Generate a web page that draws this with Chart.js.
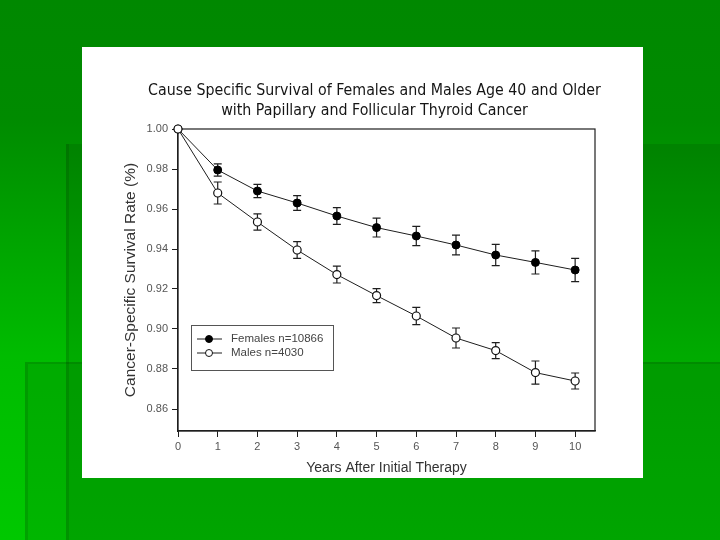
<!DOCTYPE html>
<html>
<head>
<meta charset="utf-8">
<script src="https://cdn.jsdelivr.net/npm/chart.js@4.4.1/dist/chart.umd.min.js"></script>
<style>
  html, body { margin: 0; padding: 0; }
  body {
    width: 720px; height: 540px; overflow: hidden; position: relative;
    background: linear-gradient(180deg, #008800 0%, #008b00 22%, #00bc00 66%, #00c800 100%);
  }
  .shade { position: absolute; right: 0; bottom: 0; background: rgba(0, 0, 0, 0.09); }
  #shadeA { left: 66px; top: 144px; box-shadow: inset 3px 0 0 rgba(0, 0, 0, 0.1); }
  #shadeB { left: 25px; top: 362px; box-shadow: inset 3px 2px 0 rgba(0, 0, 0, 0.1); }
  #panel { position: absolute; left: 82px; top: 47px; width: 561px; height: 431px; background: #fff; }
</style>
</head>
<body>
<div class="shade" id="shadeA"></div>
<div class="shade" id="shadeB"></div>
<div id="panel"><canvas id="survivalCanvas"></canvas></div>
<script>
"use strict";

const years = [0, 1, 2, 3, 4, 5, 6, 7, 8, 9, 10];
const femaleRate = [1.000, 0.9795, 0.969, 0.963, 0.9565, 0.9507, 0.9465, 0.942, 0.937, 0.9333, 0.9295];
const femaleErr = [0, 0.0031, 0.0033, 0.0037, 0.0042, 0.0047, 0.0048, 0.0049, 0.0053, 0.0058, 0.0058];
const maleRate = [1.000, 0.968, 0.9535, 0.9395, 0.9272, 0.9167, 0.9065, 0.8955, 0.8892, 0.8782, 0.874];
const maleErr = [0, 0.0055, 0.0041, 0.0042, 0.0042, 0.0035, 0.0043, 0.005, 0.004, 0.0058, 0.004];
const yTicks = [0.86, 0.88, 0.90, 0.92, 0.94, 0.96, 0.98, 1.00];
const titleLines = [
    'Cause Specific Survival of Females and Males Age 40 and Older',
    'with Papillary and Follicular Thyroid Cancer'
];

const ink = '#1e1e1e';
const tickFont = { family: "'Liberation Sans', Arial, sans-serif", size: 11 };

function toPoints(values) {
    return years.map((yr, i) => ({ x: yr, y: values[i] }));
}

// box round the plot, drawn under the points
const frame = {
    id: 'frame',
    beforeDatasetsDraw(chart) {
        const { ctx, chartArea: a } = chart;
        ctx.save();
        ctx.strokeStyle = ink;
        ctx.lineWidth = 1.2;
        ctx.strokeRect(a.left, a.top, a.right - a.left, a.bottom - a.top);
        ctx.restore();
    }
};

// +/- error bars with caps
const errorBars = {
    id: 'errorBars',
    beforeDatasetsDraw(chart) {
        const { ctx, scales: { x, y } } = chart;
        ctx.save();
        ctx.strokeStyle = ink;
        ctx.lineWidth = 1.2;
        chart.data.datasets.forEach(ds => {
            ds.data.forEach((p, i) => {
                const e = ds.errors[i];
                if (!e) return;
                const px = x.getPixelForValue(p.x);
                const top = y.getPixelForValue(p.y + e);
                const bot = y.getPixelForValue(p.y - e);
                ctx.beginPath();
                ctx.moveTo(px, top); ctx.lineTo(px, bot);
                ctx.moveTo(px - 4, top); ctx.lineTo(px + 4, top);
                ctx.moveTo(px - 4, bot); ctx.lineTo(px + 4, bot);
                ctx.stroke();
            });
        });
        ctx.restore();
    }
};

// two line title, a bit left of the plot centre like the scan
const scanTitle = {
    id: 'scanTitle',
    afterDraw(chart) {
        const { ctx, chartArea: a } = chart;
        const cx = (a.left + a.right) / 2 - 12;
        ctx.save();
        ctx.fillStyle = '#151515';
        ctx.font = "15.8px 'DejaVu Sans Condensed', 'DejaVu Sans', sans-serif";
        ctx.textAlign = 'center';
        ctx.textBaseline = 'alphabetic';
        titleLines.forEach((line, i) => ctx.fillText(line, cx, a.top - 34 + i * 20));
        ctx.restore();
    }
};

// boxed legend in the lower left of the plot
const boxLegend = {
    id: 'boxLegend',
    afterDraw(chart) {
        const { ctx, chartArea: a } = chart;
        const left = a.left + 13, top = a.bottom - 106;
        ctx.save();
        ctx.strokeStyle = '#555';
        ctx.lineWidth = 1;
        ctx.strokeRect(left + 0.5, top + 0.5, 142, 45);
        ctx.font = "11.5px 'Liberation Sans', Arial, sans-serif";
        ctx.textBaseline = 'middle';
        chart.data.datasets.forEach((ds, i) => {
            const rowY = top + 14 + i * 14;
            ctx.strokeStyle = ink;
            ctx.lineWidth = 1;
            ctx.beginPath();
            ctx.moveTo(left + 6, rowY); ctx.lineTo(left + 31, rowY);
            ctx.stroke();
            ctx.beginPath();
            ctx.arc(left + 18, rowY, 3.5, 0, Math.PI * 2);
            ctx.fillStyle = ds.pointBackgroundColor;
            ctx.fill();
            ctx.strokeStyle = ds.pointBorderColor;
            ctx.stroke();
            ctx.fillStyle = '#444';
            ctx.fillText(ds.label, left + 40, rowY);
        });
        ctx.restore();
    }
};

const ctx = document.getElementById('survivalCanvas');

new Chart(ctx, {
    type: 'line',
    data: {
        datasets: [
            {
                label: 'Females n=10866',
                data: toPoints(femaleRate),
                errors: femaleErr,
                order: 1,
                borderColor: ink,
                borderWidth: 1,
                pointRadius: 4,
                pointBackgroundColor: '#000',
                pointBorderColor: '#000',
                pointBorderWidth: 1,
                clip: false
            },
            {
                label: 'Males n=4030',
                data: toPoints(maleRate),
                errors: maleErr,
                order: 0,
                borderColor: ink,
                borderWidth: 1,
                pointRadius: 4,
                pointBackgroundColor: '#fff',
                pointBorderColor: '#111',
                pointBorderWidth: 1.2,
                clip: false
            }
        ]
    },
    plugins: [frame, errorBars, scanTitle, boxLegend],
    options: {
        responsive: true,
        maintainAspectRatio: false,
        animation: false,
        layout: { padding: { top: 82, right: 48, bottom: 0, left: 0 } },
        plugins: {
            legend: { display: false },
            title: { display: false },
            tooltip: { enabled: false }
        },
        scales: {
            x: {
                type: 'linear',
                min: 0,
                max: 10.5,
                afterBuildTicks: s => { s.ticks = years.map(v => ({ value: v })); },
                afterFit: s => { s.height = 47; },
                ticks: { color: '#555', font: tickFont, padding: 3, maxRotation: 0 },
                grid: { drawOnChartArea: false, tickLength: 6, color: ink },
                border: { color: ink, width: 1.2 },
                title: {
                    display: true,
                    text: 'Years After Initial Therapy',
                    color: '#333',
                    font: { family: "'Liberation Sans', Arial, sans-serif", size: 14 },
                    padding: { top: 0, bottom: 1 }
                }
            },
            y: {
                type: 'linear',
                min: 0.849,
                max: 1.0,
                afterBuildTicks: s => { s.ticks = yTicks.map(v => ({ value: v })); },
                afterFit: s => { s.width = 96; },
                ticks: {
                    color: '#555',
                    font: tickFont,
                    padding: 4,
                    callback: v => v.toFixed(2)
                },
                grid: { drawOnChartArea: false, tickLength: 6, color: ink },
                border: { color: ink, width: 1.2 },
                title: {
                    display: true,
                    text: 'Cancer-Specific Survival Rate (%)',
                    color: '#333',
                    font: { family: "'Liberation Sans', Arial, sans-serif", size: 15.5 },
                    padding: { top: 39, bottom: 0 }
                }
            }
        }
    }
});
</script>
</body>
</html>
